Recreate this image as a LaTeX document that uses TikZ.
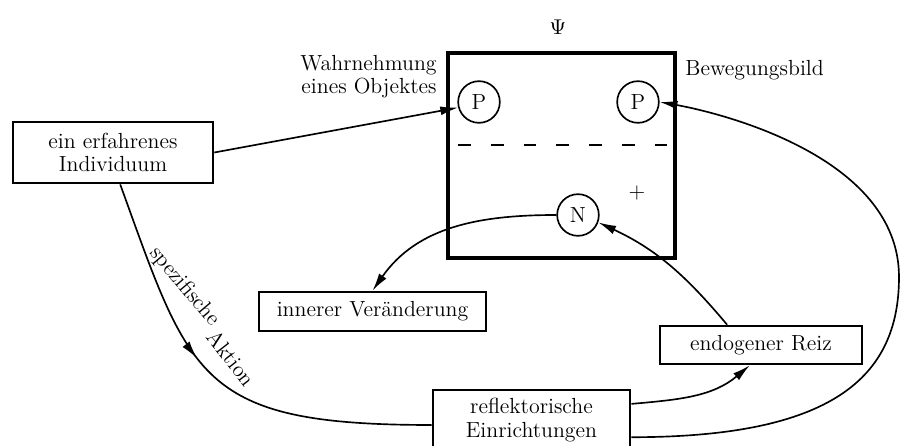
\documentclass[tikz,border=0pt]{standalone}
\usetikzlibrary{arrows.meta,decorations.markings}

\begin{document}
\begin{tikzpicture}[x=0.018cm, y=0.018cm, font=\fontsize{11.2}{12}\selectfont,
    box/.style={draw, line width=1.4pt, align=center, inner sep=0pt},
    knot/.style={draw, circle, line width=0.85pt, minimum size=0.75cm, inner sep=0pt},
    conn/.style={line width=0.85pt, -{Latex[length=3.2mm,width=1.6mm]}},
    midarrow/.style={postaction={decorate}, decoration={markings,
        mark=at position #1 with {\arrow{Latex[length=3.2mm,width=1.6mm]}}}}]

    \useasboundingbox (0,0) rectangle (901,446);

    % Psi box in the middle
    \node[box, line width=1.7pt, minimum width=4.09cm, minimum height=3.69cm] (psibox) at (561.5, 290.5) {};
    \node (psi) at (558, 419) {$\Psi$};
    \draw[line width=1pt, dash pattern=on 0.23cm off 0.36cm] (458, 301) -- (672, 301);

    \node[knot] (p1) at (479, 344) {P};
    \node[knot] (p2) at (638, 344) {P};
    \node[knot] (n) at (578, 231) {N};
    \node (plus) at (637, 253) {+};

    \node[anchor=east, align=right] (wahr) at (443.5, 369.5) {Wahrnehmung\\eines Objektes};
    \node[anchor=west] (bew) at (678.5, 376) {Bewegungsbild};

    % boxes
    \node[box, minimum width=3.6cm, minimum height=1.1cm] (indiv) at (113, 293.5) {ein erfahrenes\\Individuum};
    \node[box, minimum width=4.09cm, minimum height=0.70cm] (inner) at (372.5, 134.5) {innerer Veränderung};
    \node[box, minimum width=3.64cm, minimum height=0.68cm] (endo) at (761, 101) {endogener Reiz};
    \node[box, minimum width=3.55cm, minimum height=1.08cm] (refl) at (531.5, 26) {reflektorische\\Einrichtungen};

    \coordinate (rim) at (899, 169);

    \draw[conn] (indiv.east) -- (p1.195);

    \draw[line width=0.85pt, midarrow=0.43] ([xshift=0.13cm]indiv.south)
        .. controls +(70,-193) and +(-234,0) .. ([yshift=-0.09cm]refl.west);
    \node[rotate=-50] (spez) at (184.5, 159.5) {spezifische};
    \node[rotate=-52] (akt) at (231.5, 88) {Aktion};

    \draw[conn] (n.west) to[out=180, in=55] (inner.north);
    \draw[conn] ([xshift=-0.61cm]endo.north) to[out=130, in=-25] (n.-20);
    \draw[conn] ([yshift=0.29cm]refl.east) to[out=5, in=-140] ([xshift=-0.2cm]endo.south);
    \draw[conn] ([yshift=-0.31cm]refl.east) .. controls +(200,0) and +(0,-101) .. (rim)
        .. controls +(0,122) and +(56,-10) .. (p2.east);

\end{tikzpicture}
\end{document}
